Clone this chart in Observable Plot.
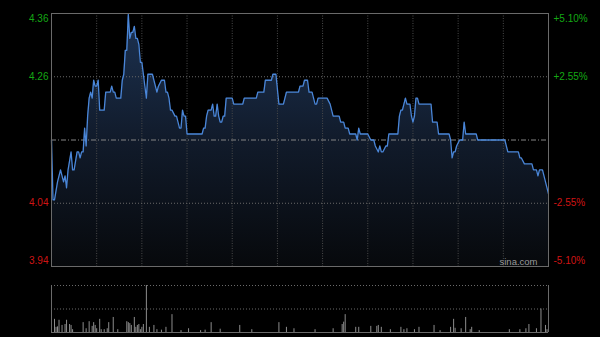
<!DOCTYPE html>
<html><head><meta charset="utf-8">
<script src="https://cdn.jsdelivr.net/npm/d3@7"></script>
<script src="https://cdn.jsdelivr.net/npm/@observablehq/plot@0.6"></script>
<style>
html,body{margin:0;padding:0;background:#000;}
#chart{position:relative;width:600px;height:337px;background:#000;overflow:hidden;}
#chart svg{position:absolute;left:0;display:block;}
</style></head><body><div id="chart"></div>
<script>
const prevClose = 4.15;
const totalMinutes = 330;
const gridMinutes = [30, 60, 90, 120, 150, 180, 210, 240, 270, 300];
const pctTicks = [5.10, 2.55, -2.55, -5.10];
const leftTickLabels = ["4.36", "4.26", "4.04", "3.94"];
const rightTickLabels = ["+5.10%", "+2.55%", "-2.55%", "-5.10%"];
const watermark = "sina.com";

const priceMinutes = [0,1,2,4,6,8,9,10,11,13,14,15,17,18,19,20,21,22,23,24,25,26,27,28,29,30,31,32,35,36,39,40,41,42,43,46,47,48,49,50,51,52,53,54,55,56,57,58,59,60,62,63,64,67,68,70,71,73,75,76,77,78,79,80,82,83,84,85,86,87,88,89,90,100,101,102,103,104,106,107,108,109,110,111,112,113,114,115,116,120,121,127,128,136,137,141,142,146,147,149,151,154,155,156,164,165,167,168,170,171,173,175,176,177,183,185,186,187,191,192,194,195,197,198,202,203,204,205,210,212,214,215,217,218,219,220,222,223,224,230,231,232,233,234,235,236,238,239,240,241,242,243,244,252,253,256,257,264,265,266,267,268,269,271,273,274,275,282,283,301,303,310,311,312,314,319,320,322,323,324,326,327,328,330];
const priceValues = [4.15,4.05,4.05,4.08,4.10,4.08,4.09,4.07,4.10,4.13,4.10,4.10,4.13,4.13,4.12,4.13,4.13,4.17,4.14,4.19,4.22,4.23,4.22,4.25,4.24,4.24,4.25,4.20,4.20,4.23,4.23,4.24,4.23,4.23,4.22,4.22,4.25,4.26,4.30,4.30,4.36,4.32,4.33,4.33,4.34,4.32,4.32,4.31,4.28,4.28,4.24,4.22,4.26,4.26,4.25,4.23,4.24,4.25,4.25,4.23,4.23,4.22,4.20,4.20,4.19,4.19,4.18,4.17,4.17,4.20,4.19,4.19,4.16,4.16,4.17,4.17,4.19,4.20,4.20,4.21,4.19,4.19,4.21,4.19,4.18,4.18,4.19,4.19,4.22,4.22,4.21,4.21,4.22,4.22,4.23,4.23,4.25,4.25,4.26,4.26,4.21,4.21,4.22,4.23,4.23,4.24,4.24,4.25,4.25,4.23,4.23,4.21,4.21,4.22,4.22,4.21,4.20,4.19,4.19,4.18,4.18,4.17,4.17,4.16,4.16,4.15,4.17,4.16,4.16,4.15,4.15,4.14,4.13,4.14,4.13,4.13,4.14,4.14,4.16,4.16,4.19,4.20,4.20,4.21,4.22,4.21,4.21,4.19,4.18,4.19,4.22,4.22,4.21,4.21,4.18,4.18,4.16,4.16,4.15,4.12,4.13,4.13,4.14,4.15,4.15,4.18,4.16,4.16,4.15,4.15,4.13,4.13,4.12,4.12,4.11,4.11,4.10,4.10,4.09,4.10,4.10,4.09,4.08,4.06];

const volMinutes = [2,3,4,5,7,9,10,12,13,14,21,23,25,27,28,29,30,32,33,35,37,38,41,44,50,51,52,53,55,56,57,58,59,60,61,63,65,68,70,73,76,80,86,91,99,102,106,112,125,133,151,156,161,175,187,193,194,195,202,204,212,216,217,219,225,232,234,236,241,244,254,258,265,267,268,272,275,278,279,284,304,311,315,317,322,325,328,329];
const volValues = [28,11,12,26,15,17,26,17,15,6,21,8,23,13,21,15,8,28,6,6,8,21,32,6,23,21,19,15,32,11,15,17,6,11,17,100,11,15,6,5,11,38,4,8,4,5,21,7,15,6,21,11,8,6,8,17,22,38,11,11,13,13,15,11,6,11,6,8,6,11,15,4,11,28,9,8,32,6,11,4,6,6,8,17,8,50,15,6];

const yMin = prevClose * (1 - 0.051);
const yMax = prevClose * (1 + 0.051);
const priceData = priceMinutes.map((m, i) => ({m, p: priceValues[i]}));
const volData = volMinutes.map((m, i) => ({m, v: volValues[i]}));
const tickData = pctTicks.map((pct, i) => ({
  p: prevClose * (1 + pct / 100),
  left: leftTickLabels[i], right: rightTickLabels[i],
  color: pct > 0 ? "#14a814" : "#d01414",
  dy: i === 0 ? 5 : (i === pctTicks.length - 1 ? -6 : 0),
  xl: 0, xr: totalMinutes
}));

const font = "'Liberation Sans', Arial, sans-serif";
const labelMarks = tickData.flatMap(d => [
  Plot.text([d], {x: "xl", y: "p", text: "left", textAnchor: "end", dx: -3, dy: d.dy, fill: d.color, fontSize: 10}),
  Plot.text([d], {x: "xr", y: "p", text: "right", textAnchor: "start", dx: 5, dy: d.dy, fill: d.color, fontSize: 10})
]);

const main = Plot.plot({
  width: 600, height: 270,
  marginLeft: 51, marginRight: 52, marginTop: 13, marginBottom: 4,
  x: {domain: [0, totalMinutes], axis: null},
  y: {domain: [yMin, yMax], axis: null},
  style: {background: "transparent", fontFamily: font, fontSize: "10px", overflow: "visible"},
  marks: [
    Plot.areaY(priceData, {x: "m", y1: yMin, y2: "p", fill: "url(#priceGrad)"}),
    Plot.ruleX(gridMinutes, {stroke: "#4a4a4a", strokeDasharray: "1,1.5"}),
    Plot.ruleY([tickData[1].p, tickData[2].p], {stroke: "#6a6a6a", strokeDasharray: "1,2"}),
    Plot.ruleY([prevClose], {stroke: "#858585", strokeDasharray: "5,2,1,2"}),
    Plot.lineY(priceData, {x: "m", y: "p", stroke: "#4a86d8", strokeWidth: 1.3}),
    Plot.frame({stroke: "#6a6a6a"}),
    Plot.text([{x: totalMinutes, y: yMin, t: watermark}], {x: "x", y: "y", text: "t", textAnchor: "end", dx: -11, dy: -4.5, fill: "#9a9a9a", fontSize: 9.5}),
    ...labelMarks
  ]
});

const defs = d3.select(main).insert("defs", ":first-child");
const grad = defs.append("linearGradient").attr("id", "priceGrad")
  .attr("gradientUnits", "userSpaceOnUse").attr("x1", 0).attr("x2", 0).attr("y1", 13).attr("y2", 266);
grad.append("stop").attr("offset", "0%").attr("stop-color", "#1d3353");
grad.append("stop").attr("offset", "50%").attr("stop-color", "#111b2b");
grad.append("stop").attr("offset", "100%").attr("stop-color", "#07090c");

const vmax = d3.max(volValues);
const vol = Plot.plot({
  width: 600, height: 67,
  marginLeft: 51, marginRight: 52, marginTop: 15, marginBottom: 5,
  x: {domain: [0, totalMinutes], axis: null},
  y: {domain: [0, vmax], axis: null},
  style: {background: "transparent"},
  marks: [
    Plot.ruleY([vmax, vmax / 2], {stroke: "#6a6a6a", strokeDasharray: "1,2"}),
    Plot.ruleX(volData, {x: "m", y1: 0, y2: "v", stroke: "#8c8c8c"}),
    Plot.ruleY([0], {stroke: "#6a6a6a"}),
    Plot.ruleX([0, totalMinutes], {stroke: "#6a6a6a"})
  ]
});

main.style.top = "0px";
vol.style.top = "270px";
const chart = document.getElementById("chart");
chart.appendChild(main);
chart.appendChild(vol);
</script>
</body></html>
